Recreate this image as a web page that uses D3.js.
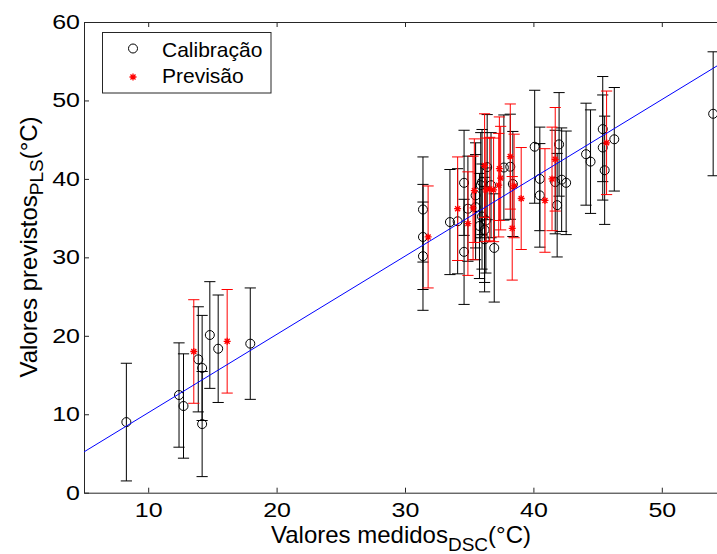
<!DOCTYPE html>
<html>
<head>
<meta charset="utf-8">
<script src="https://cdn.jsdelivr.net/npm/d3@7"></script>
<style>
  html, body { margin: 0; padding: 0; background: #fff; }
  svg { display: block; }
</style>
</head>
<body>
<div id="chart"></div>
<script>
// ── Data ───────────────────────────────────────────────────────────────────
// Calibração: black circles with error bars (x, y, half-width of bar)
const calX = [8.3, 12.4, 12.75, 13.9, 14.2, 14.2, 14.8, 15.45, 17.95,
              31.4, 31.4, 31.4, 33.5, 34.1, 34.6, 34.6, 34.9, 35.5, 35.5, 35.8,
              35.9, 36.0, 36.2, 36.3, 36.4, 36.7, 36.0, 36.2, 36.95, 37.7, 38.2,
              38.4, 40.1, 40.5, 40.5, 42.0, 41.7, 42.2, 42.55, 41.85, 44.1, 44.45,
              45.4, 45.4, 45.55, 46.3, 54.0];
const calY = [9.0, 12.45, 11.05, 17.0, 15.9, 8.75, 20.1, 18.35, 19.0,
              36.1, 32.6, 30.15, 34.5, 34.6, 39.5, 30.7, 36.2, 37.9, 36.4, 34.0,
              39.2, 35.2, 33.5, 34.7, 41.5, 39.2, 39.6, 32.3, 31.2, 41.45, 41.55,
              39.35, 44.1, 40.0, 37.9, 44.4, 39.6, 39.9, 39.5, 36.65, 43.15, 42.2,
              46.35, 44.0, 41.1, 45.05, 48.3];
const calErr = [7.5, 6.65, 6.65, 6.7, 6.7, 6.7, 6.8, 6.85, 7.1,
                6.7, 6.7, 6.9, 6.7, 6.7, 6.7, 6.7, 6.7, 6.7, 6.7, 6.7,
                6.7, 6.7, 6.7, 6.7, 6.7, 6.7, 6.7, 6.7, 6.9, 6.7, 6.7,
                6.7, 7.2, 6.6, 6.6, 6.6, 6.6, 6.6, 6.6, 6.6, 6.5, 6.6,
                6.7, 6.7, 6.9, 6.6, 7.9];

// Previsão: red asterisks with error bars
const preX = [13.55, 16.15, 31.8, 34.1, 34.9, 35.4, 35.3, 36.2, 36.3, 36.6, 36.9,
              37.35, 37.45, 37.3, 38.2, 38.5, 38.35, 39.05, 40.9, 41.45, 41.7, 45.7];
const preY = [18.0, 19.3, 32.6, 36.2, 34.3, 38.5, 36.3, 41.7, 38.6, 38.7, 38.6,
              41.3, 40.1, 39.2, 42.85, 39.1, 33.7, 37.5, 37.25, 40.0, 42.5, 44.6];
const preErr = [6.6, 6.6, 6.5, 6.6, 6.6, 6.6, 6.6, 6.6, 6.6, 6.6, 6.6,
                6.6, 6.6, 6.6, 6.7, 6.6, 6.6, 6.5, 6.6, 6.6, 6.6, 6.6];

// Fitted line (blue)
const fitX = [5, 55];
const fitY = [5.2, 55.1];

const xTicks = [10, 20, 30, 40, 50];
const yTicks = [0, 10, 20, 30, 40, 50, 60];
const legendLabels = ["Calibração", "Previsão"];

// ── Layout ────────────────────────────────────────────────────────────────
const W = 717, H = 554;
const FONT = "'Liberation Sans', Arial, Helvetica, sans-serif";
const capW = 5.6;

const xScale = d3.scaleLinear().domain([5, 55]).range([84, 726]);
const yScale = d3.scaleLinear().domain([0, 60]).range([492.7, 22]);

const svg = d3.select("#chart").append("svg")
  .attr("width", W).attr("height", H)
  .style("background", "#fff");

// ── Axes (MATLAB box style, inward ticks) ─────────────────────────────────
const axisColor = "#262626";

svg.append("g")
  .attr("transform", `translate(0,${yScale(0)})`)
  .call(d3.axisBottom(xScale).tickValues(xTicks).tickSizeInner(-5).tickSizeOuter(0).tickPadding(10.6))
  .call(ax => ax.selectAll("line, path").attr("stroke", axisColor))
  .call(ax => ax.selectAll("text")
    .attr("fill", "#000").attr("font-family", FONT).attr("font-size", "20px")
    .attr("transform", "scale(1.25,1)"));

svg.append("g")
  .attr("transform", `translate(0,${yScale(60)})`)
  .call(d3.axisTop(xScale).tickValues(xTicks).tickSizeInner(-5).tickSizeOuter(0).tickFormat(""))
  .call(ax => ax.selectAll("line, path").attr("stroke", axisColor));

svg.append("g")
  .attr("transform", `translate(${xScale(5)},0)`)
  .call(d3.axisLeft(yScale).tickValues(yTicks).tickSizeInner(-5).tickSizeOuter(0).tickPadding(3.2))
  .call(ax => ax.selectAll("line, path").attr("stroke", axisColor))
  .call(ax => ax.selectAll("text")
    .attr("fill", "#000").attr("font-family", FONT).attr("font-size", "20px")
    .attr("transform", "scale(1.25,1)"));

// ── Axis labels ───────────────────────────────────────────────────────────
const xLab = svg.append("text")
  .attr("x", 401).attr("y", 542.5)
  .attr("text-anchor", "middle")
  .attr("font-family", FONT).attr("font-size", "24px").attr("fill", "#000");
xLab.append("tspan").text("Valores medidos");
xLab.append("tspan").attr("dy", 8.5).attr("font-size", "19px").text("DSC");
xLab.append("tspan").attr("dy", -8.5).text("(°C)");

const yLab = svg.append("text")
  .attr("transform", "rotate(-90)")
  .attr("x", -247).attr("y", 36.7)
  .attr("text-anchor", "middle")
  .attr("font-family", FONT).attr("font-size", "24px").attr("fill", "#000");
yLab.append("tspan").text("Valores previstos");
yLab.append("tspan").attr("dy", 6).attr("font-size", "19px").text("PLS");
yLab.append("tspan").attr("dy", -6).text("(°C)");

// ── Markers ───────────────────────────────────────────────────────────────
// MATLAB-style '*' : plus + cross
const matlabStar = {
  draw(ctx, size) {
    const r = Math.sqrt(size) / 2;
    const d = r * 0.72;
    ctx.moveTo(-r, 0); ctx.lineTo(r, 0);
    ctx.moveTo(0, -r); ctx.lineTo(0, r);
    ctx.moveTo(-d, -d); ctx.lineTo(d, d);
    ctx.moveTo(-d, d); ctx.lineTo(d, -d);
  }
};

function drawSeries(xs, ys, errs, color, marker) {
  const pts = xs.map((x, i) => ({ x, y: ys[i], e: errs[i] }));
  const g = svg.append("g");

  g.append("g")
    .attr("stroke", color).attr("stroke-width", 1).attr("fill", "none")
    .selectAll("path").data(pts).join("path")
      .attr("d", d => {
        const cx = xScale(d.x);
        const y0 = yScale(d.y - d.e), y1 = yScale(d.y + d.e);
        return `M${cx},${y0}V${y1}M${cx - capW},${y0}H${cx + capW}M${cx - capW},${y1}H${cx + capW}`;
      });

  if (marker === "circle") {
    g.append("g").selectAll("circle").data(pts).join("circle")
      .attr("cx", d => xScale(d.x)).attr("cy", d => yScale(d.y))
      .attr("r", 4.5)
      .attr("fill", "none").attr("stroke", color).attr("stroke-width", 1);
  } else {
    g.append("g").selectAll("path").data(pts).join("path")
      .attr("transform", d => `translate(${xScale(d.x)},${yScale(d.y)})`)
      .attr("d", d3.symbol().type(matlabStar).size(49))
      .attr("fill", "none").attr("stroke", color).attr("stroke-width", 1.3);
  }
}

drawSeries(calX, calY, calErr, "#000", "circle");
drawSeries(preX, preY, preErr, "#ff0000", "star");

// ── Fitted line ───────────────────────────────────────────────────────────
svg.append("path")
  .datum(fitX.map((x, i) => [x, fitY[i]]))
  .attr("fill", "none").attr("stroke", "#0000ff").attr("stroke-width", 1)
  .attr("d", d3.line().x(d => xScale(d[0])).y(d => yScale(d[1])));

// ── Legend ────────────────────────────────────────────────────────────────
const leg = svg.append("g");
leg.append("rect")
  .attr("x", 102.5).attr("y", 32.5).attr("width", 168.5).attr("height", 60.5)
  .attr("fill", "#fff").attr("stroke", axisColor).attr("stroke-width", 1);

leg.append("circle")
  .attr("cx", 133).attr("cy", 48.5).attr("r", 4.5)
  .attr("fill", "none").attr("stroke", "#000");
leg.append("path")
  .attr("transform", "translate(133,77)")
  .attr("d", d3.symbol().type(matlabStar).size(49))
  .attr("fill", "none").attr("stroke", "#ff0000").attr("stroke-width", 1.3);

leg.selectAll("text").data(legendLabels).join("text")
  .attr("x", 162).attr("y", (d, i) => 56.7 + i * 26.6)
  .attr("font-family", FONT).attr("font-size", "21px").attr("fill", "#000")
  .text(d => d);
</script>
</body>
</html>
